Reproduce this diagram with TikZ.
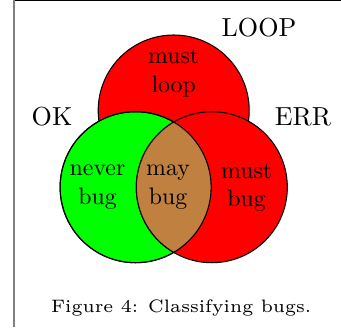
\documentclass[tikz,border=0pt]{standalone}
\usepackage{graphicx}
\definecolor{mustred}{RGB}{255,0,0}
\definecolor{nevergreen}{RGB}{0,255,0}
\definecolor{maybrown}{RGB}{191,128,64}
\tikzset{
  setcircle/.style={draw=black, line width=0.45pt},
  region/.style={font=\fontsize{10}{12}\selectfont, align=center, inner sep=0pt, anchor=base},
  setname/.style={font=\fontsize{10.95}{13}\selectfont, inner sep=0pt, anchor=base},
  captiontext/.style={inner sep=0pt, anchor=base}
}
\begin{document}
\begin{tikzpicture}[x=0.42pt, y=-0.42pt]
  \useasboundingbox (0,0) rectangle (341,327);
  \fill[white] (0,0) rectangle (341,327);

  % frame edges
  \draw[black!50, line width=1.09pt] (14,0) -- (14,327);
  \draw[black, line width=0.55pt] (15.3,0.65) -- (341,0.65);

  % circle centres
  \coordinate (cloop) at (173.7,110.5);
  \coordinate (cok)   at (135.6,187.2);
  \coordinate (cerr)  at (211.8,187.2);
  \def\setrad{31.71pt}

  % LOOP, OK, ERR sets
  \fill[mustred]    (cloop) circle[radius=\setrad];
  \draw[setcircle]  (cloop) circle[radius=\setrad];
  \fill[nevergreen] (cok) circle[radius=\setrad];
  \draw[setcircle]  (cok) circle[radius=\setrad];
  \fill[mustred]    (cerr) circle[radius=\setrad];
  \draw[setcircle]  (cerr) circle[radius=\setrad];

  % OK and ERR overlap
  \begin{scope}
    \clip (cok) circle[radius=\setrad];
    \fill[maybrown] (cerr) circle[radius=\setrad];
    \draw[setcircle] (cerr) circle[radius=\setrad];
  \end{scope}
  \draw[setcircle] (cok) circle[radius=\setrad];

  % set names
  \node[setname] (loop) at (259,36) {LOOP};
  \node[setname] (ok)   at (52,125.5) {OK};
  \node[setname] (err)  at (303,125.7) {ERR};

  % region labels (base anchor sits on the second line)
  \node[region] (mustloop) at (173.7,92.5) {must\\loop};
  \node[region] (neverbug) at (97.5,204.5) {never\\bug};
  \node[region] (maybug)   at (168,204.3) {may\\bug};
  \node[region] (mustbug)  at (246.6,206.7) {must\\bug};

  % caption
  \node[captiontext] (caption) at (181.2,312.7)
    {\scalebox{1.262}{\fontsize{6}{7}\selectfont Figure 4: Classifying bugs.}};
\end{tikzpicture}
\end{document}
